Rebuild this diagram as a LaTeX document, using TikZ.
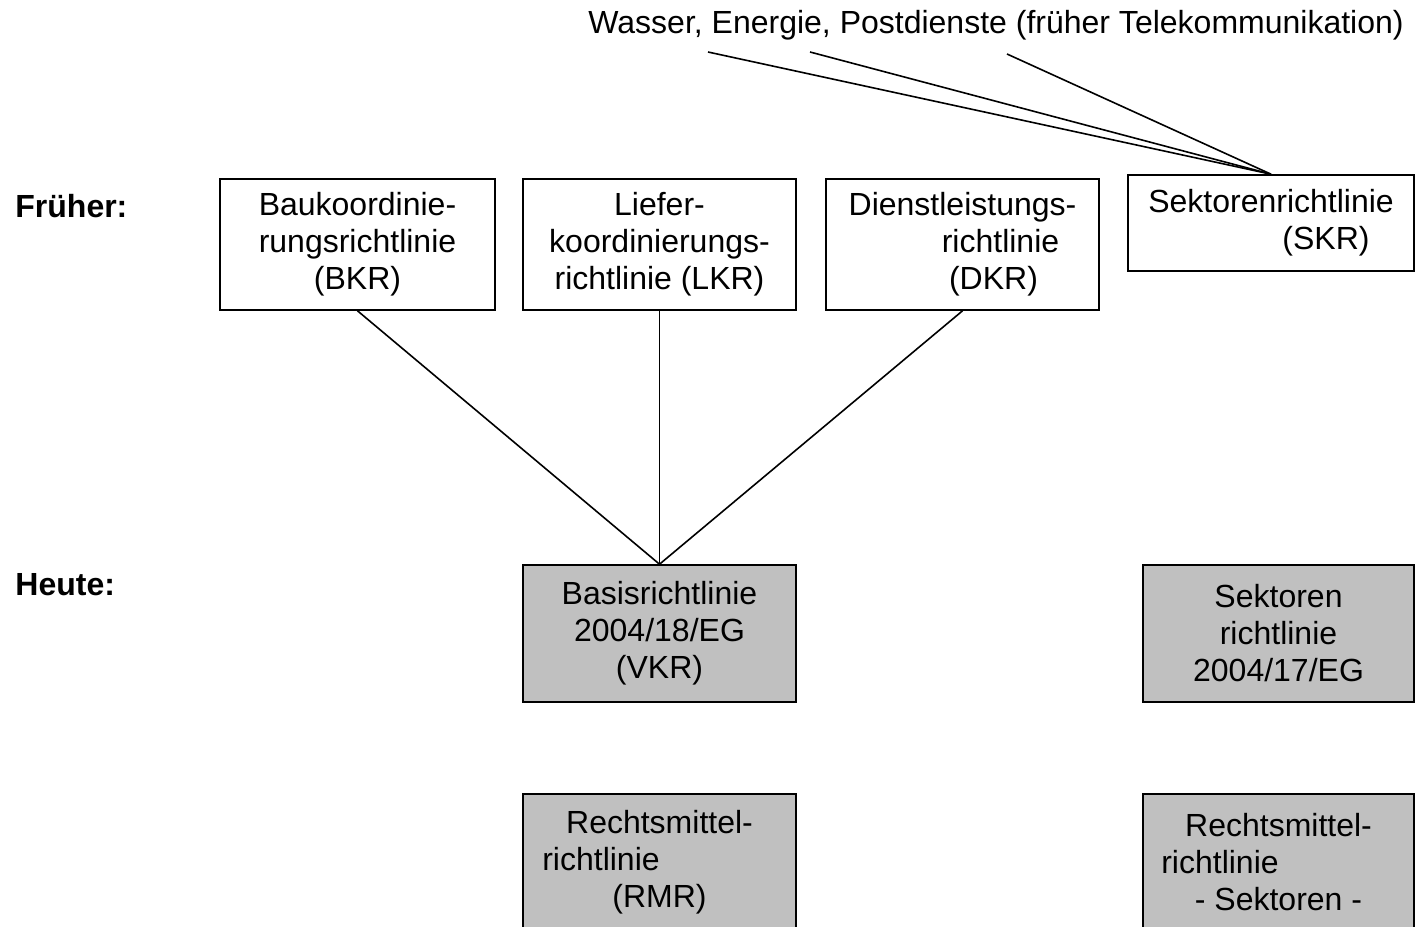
\documentclass[tikz,border=0pt]{standalone}
\usepackage{fontspec}
\setmainfont{Liberation Sans}
\definecolor{boxgray}{RGB}{192,192,192}
\begin{document}
\begin{tikzpicture}[
		x=0.5pt, y=-0.5pt,
		font=\fontsize{16}{18.5}\selectfont,
		box/.style={draw, line width=0.8pt, inner sep=0pt, align=center,
			minimum width=136.5pt, minimum height=65.5pt},
		newbox/.style={box, fill=boxgray, minimum height=68.5pt},
		label/.style={anchor=west, inner sep=0pt, font=\fontsize{16}{18.5}\selectfont\bfseries},
		link/.style={line width=0.8pt}
		]
		\clip (0,0) rectangle (1416,926);
		\node[label] (frueher) at (15,206) {Früher:};
		\node[label] (heute) at (15,585) {Heute:};
		\node (sektoren) at (996,25) {Wasser, Energie, Postdienste (früher Telekommunikation)};
		\coordinate (w1) at (708,52);
		\coordinate (w2) at (810,52);
		\coordinate (w3) at (1007,54);
		\node[box, minimum width=137.5pt] (bkr) at (357.5,244.5) {Baukoordinie-\\rungsrichtlinie\\(BKR)};
		\node[box] (lkr) at (659.5,244.5) {Liefer-\\koordinierungs-\\richtlinie (LKR)};
		\node[box] (dkr) at (962.5,244.5) {Dienstleistungs-\\\hspace*{38pt}richtlinie\\\hspace*{31pt}(DKR)};
		\node[box, minimum width=143pt, minimum height=48pt] (skr) at (1271,223) {Sektorenrichtlinie\\\hspace*{55pt}(SKR)};
		\node[newbox] (vkr) at (659.5,633.5) {Basisrichtlinie\\2004/18/EG\\(VKR)};
		\node[newbox, minimum width=135.5pt] (srl) at (1278.5,633.5) {Sektoren\\richtlinie\\2004/17/EG};
		\node[newbox] (rmr) at (659.5,862.5) {Rechtsmittel-\\richtlinie\hspace*{58.5pt}\null\\(RMR)};
		\node[newbox, minimum width=135.5pt] (rms) at (1278.5,862.5) {Rechtsmittel-\\richtlinie\hspace*{58.5pt}\null\\- Sektoren -};
		\draw[link] (bkr.south) -- (vkr.north);
		\draw[link] (lkr.south) -- (vkr.north);
		\draw[link] (dkr.south) -- (vkr.north);
		\foreach \w in {w1,w2,w3}
			\draw[link] (\w) -- (skr.north);
\end{tikzpicture}
\end{document}
